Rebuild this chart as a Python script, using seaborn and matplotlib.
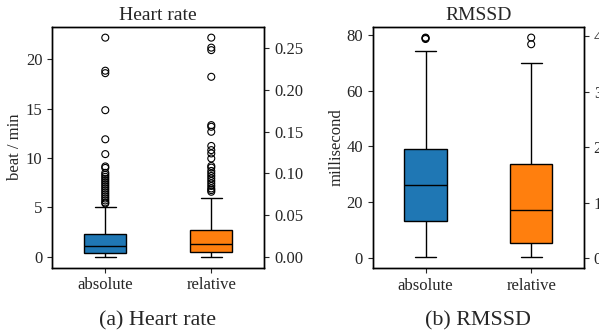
import numpy as np
import matplotlib
matplotlib.use("Agg")
import matplotlib.pyplot as plt
import seaborn as sns

# categories and colours
groups = ["absolute", "relative"]
colors = ["#1f77b4", "#ff7f0e"]

# five-number summaries (whisker low, Q1, median, Q3, whisker high)
hr_abs_box = [0.0, 0.40, 1.07, 2.32, 5.05]
hr_rel_box = [0.0, 0.0055, 0.0157, 0.032, 0.070]
rm_abs_box = [0.15, 13.3, 26.1, 39.2, 74.2]
rm_rel_box = [0.01, 0.277, 0.86, 1.70, 3.53]

# outliers
hr_abs_out = [22.2, 18.85, 18.6, 14.85, 11.9, 10.4, 9.15, 9.0, 8.5, 8.3, 8.1,
              7.9, 7.7, 7.5, 7.3, 7.1, 6.9, 6.7, 6.5, 6.3, 6.1, 5.9, 5.7, 5.5, 5.4]
hr_rel_out = [0.263, 0.251, 0.248, 0.216, 0.158, 0.156, 0.150, 0.133, 0.128,
              0.124, 0.118, 0.109, 0.107, 0.103, 0.100, 0.097, 0.094, 0.091,
              0.088, 0.085, 0.082, 0.080, 0.078]
rm_abs_out = [78.6, 78.9, 79.1]
rm_rel_out = [3.86, 3.98]

sns.set_style("ticks")
plt.rcParams["font.family"] = ["Liberation Serif", "DejaVu Serif"]

fig = plt.figure(figsize=(5.99, 3.34), dpi=100)
ax_hr = fig.add_axes([0.0873, 0.1985, 0.3539, 0.7216])
ax_rm = fig.add_axes([0.6222, 0.1967, 0.3528, 0.7236])


def draw_pair(ax, abs_box, rel_box, abs_out, rel_out, title, ylabel, lpad):
    ax2 = ax.twinx()
    for a, box, out, col, grp in [(ax, abs_box, abs_out, colors[0], groups[0]),
                                  (ax2, rel_box, rel_out, colors[1], groups[1])]:
        sns.boxplot(x=[grp] * len(box), y=box, order=groups, ax=a, color=col,
                    saturation=1, width=0.4, linecolor="black", linewidth=1,
                    showfliers=False)
        sns.stripplot(x=[grp] * len(out), y=out, order=groups, ax=a,
                      jitter=False, size=5, color="black", linewidth=0.8,
                      edgecolor="black")
        for c in a.collections:
            c.set_facecolor("none")
        a.set_xlabel("")
        a.set_ylabel("")
        a.tick_params(labelsize=12)
    ax.set_xlim(-0.5, 1.5)
    ax.set_title(title, fontsize=14, pad=5)
    ax.set_ylabel(ylabel, fontsize=12, labelpad=lpad)
    for sp in list(ax.spines.values()) + list(ax2.spines.values()):
        sp.set_visible(True)
        sp.set_linewidth(1)
        sp.set_color("black")
    return ax2


ax_hr2 = draw_pair(ax_hr, hr_abs_box, hr_rel_box, hr_abs_out, hr_rel_out,
                   "Heart rate", "beat / min", 2)
ax_rm2 = draw_pair(ax_rm, rm_abs_box, rm_rel_box, rm_abs_out, rm_rel_out,
                   "RMSSD", "millisecond", 1)
ax_hr.set_yticks([0, 5, 10, 15, 20])
ax_hr2.set_yticks([0, 0.05, 0.10, 0.15, 0.20, 0.25])
ax_rm.set_yticks([0, 20, 40, 60, 80])
ax_rm2.set_yticks([0, 1, 2, 3, 4])

fig.text(0.263, 0.024, "(a) Heart rate", ha="center", va="baseline", fontsize=15.8)
fig.text(0.798, 0.024, "(b) RMSSD", ha="center", va="baseline", fontsize=15.8)

fig.savefig("out.png", dpi=100)
